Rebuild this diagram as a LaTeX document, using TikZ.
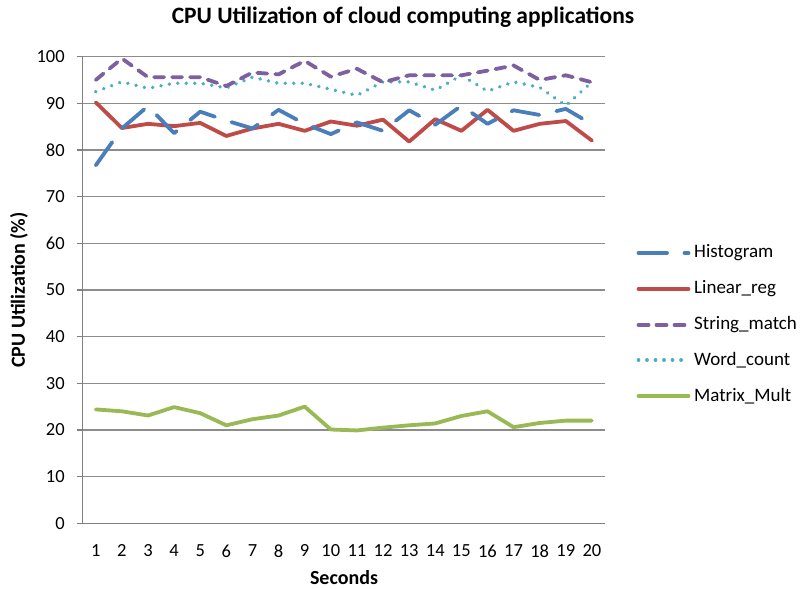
\documentclass[tikz,border=0pt]{standalone}
\usepackage{fontspec}
\setmainfont{Carlito}
\usetikzlibrary{calc}

\definecolor{histc}{HTML}{4A7EBB}
\definecolor{linc}{HTML}{BE4B48}
\definecolor{strc}{HTML}{7D60A0}
\definecolor{wordc}{HTML}{4BACC6}
\definecolor{matc}{HTML}{98B954}
\definecolor{gridc}{HTML}{8C8C8C}
\definecolor{axisc}{HTML}{7F7F7F}

\tikzset{
  series/.style={line width=3.8pt, line join=round, line cap=round},
  histline/.style={series, draw=histc, dash pattern=on 28.5pt off 17.5pt},
  linline/.style={series, draw=linc},
  strline/.style={series, draw=strc, dash pattern=on 10pt off 8pt},
  wordline/.style={series, draw=wordc, dash pattern=on 0.01pt off 8.5pt},
  matline/.style={series, draw=matc},
  gridline/.style={draw=gridc, line width=1.3pt},
  axisline/.style={draw=axisc, line width=1.5pt},
  ticklabel/.style={font=\fontsize{18.5}{20}\selectfont, inner sep=0pt},
  legtext/.style={font=\fontsize{19}{20}\selectfont, anchor=west, inner sep=0pt},
  axtitle/.style={font=\fontsize{20}{22}\selectfont\bfseries, inner sep=0pt},
}

\begin{document}
\begin{tikzpicture}[x=1pt, y=-1pt]
\useasboundingbox (0,0) rectangle (804,589);

% title and axis titles
\node[font=\fontsize{23.5}{25}\selectfont\bfseries, inner sep=0pt] (title) at (403,17) {CPU Utilization of cloud computing applications};
\node[axtitle, rotate=90] (ytitle) at (19,290) {CPU Utilization (\%)};
\node[axtitle] (xtitle) at (344,578) {Seconds};

% plot area: origin at (82.7,523.3), 20 categories, 0..100 %
\begin{scope}[xshift=82.7pt, yshift=-523.3pt, x=26.115pt, y=4.6667pt]
  % gridlines, ticks and value labels
  \foreach \v in {10,20,...,100} {
    \draw[gridline] (0,\v) -- (20,\v);
  }
  \foreach \v in {0,10,...,100} {
    \draw[axisline] (-0.23,\v) -- (0,\v);
    \node[ticklabel, anchor=east] (yl\v) at (-0.68,\v) {\v};
  }
  \draw[axisline] (0,0) -- (0,100);
  \draw[axisline] (0,0) -- (20,0);
  \foreach \i in {1,...,20} {
    \node[ticklabel] (xl\i) at (\i-0.5,-5.9) {\i};
  }

  % data series
  \draw[matline] plot coordinates {
    (0.5,24.4) (1.5,24.0) (2.5,23.1) (3.5,24.9) (4.5,23.6) (5.5,21.0) (6.5,22.3)
    (7.5,23.1) (8.5,25.0) (9.5,20.1) (10.5,19.9) (11.5,20.5) (12.5,21.0) (13.5,21.4)
    (14.5,23.0) (15.5,24.0) (16.5,20.6) (17.5,21.5) (18.5,22.0) (19.5,22.0)};
  \draw[wordline] plot coordinates {
    (0.5,92.5) (1.5,94.6) (2.5,93.2) (3.5,94.3) (4.5,94.3) (5.5,93.3) (6.5,95.6)
    (7.5,94.3) (8.5,94.3) (9.5,93.0) (10.5,91.7) (11.5,94.6) (12.5,94.6) (13.5,92.8)
    (14.5,96.0) (15.5,92.6) (16.5,94.6) (17.5,93.4) (18.5,89.5) (19.5,94.6)};
  \draw[strline] plot coordinates {
    (0.5,95.0) (1.5,99.6) (2.5,95.6) (3.5,95.6) (4.5,95.6) (5.5,93.7) (6.5,96.6)
    (7.5,96.2) (8.5,99.1) (9.5,95.7) (10.5,97.4) (11.5,94.5) (12.5,96.0) (13.5,96.0)
    (14.5,96.0) (15.5,97.0) (16.5,98.1) (17.5,95.0) (18.5,96.0) (19.5,94.5)};
  \draw[linline] plot coordinates {
    (0.5,90.2) (1.5,84.7) (2.5,85.6) (3.5,85.1) (4.5,85.8) (5.5,83.0) (6.5,84.6)
    (7.5,85.6) (8.5,84.1) (9.5,86.1) (10.5,85.2) (11.5,86.5) (12.5,81.8) (13.5,86.6)
    (14.5,84.1) (15.5,88.6) (16.5,84.1) (17.5,85.6) (18.5,86.2) (19.5,82.0)};
  \draw[histline] plot coordinates {
    (0.5,76.7) (1.5,84.6) (2.5,89.4) (3.5,83.6) (4.5,88.2) (5.5,86.3) (6.5,84.6)
    (7.5,88.6) (8.5,85.6) (9.5,83.4) (10.5,85.9) (11.5,84.1) (12.5,88.5) (13.5,85.4)
    (14.5,89.5) (15.5,85.6) (16.5,88.5) (17.5,87.5) (18.5,88.8) (19.5,85.5)};
\end{scope}

% legend
\foreach \n/\s/\t/\y in {1/histline/Histogram/253, 2/linline/Linear\_reg/289,
                         3/strline/String\_match/325, 4/wordline/Word\_count/360,
                         5/matline/Matrix\_Mult/396} {
  \coordinate (la\n) at (638.5,\y);
  \coordinate (lb\n) at (688.5,\y);
  \draw[\s] (la\n) -- (lb\n);
  \node[legtext] (lt\n) at (694,\y) {\t};
}
\end{tikzpicture}
\end{document}
